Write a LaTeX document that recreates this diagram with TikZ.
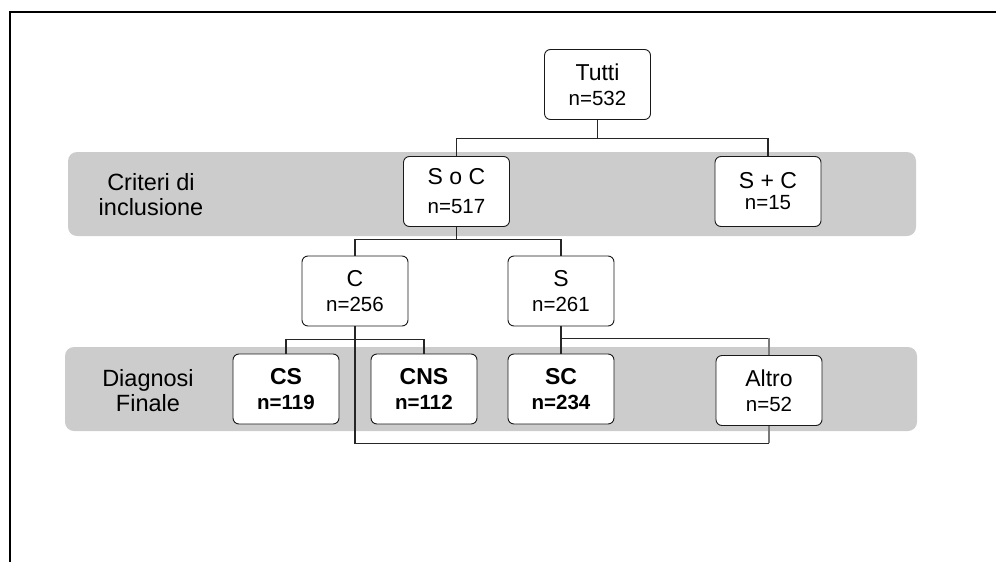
\documentclass[tikz,border=0pt]{standalone}
\usepackage{fontspec}
\setmainfont{Liberation Sans}
\definecolor{bandgray}{HTML}{CCCCCC}
\definecolor{inkgray}{HTML}{7A7A7A}
\newcommand{\ttl}{\fontsize{23}{25}\selectfont}
\begin{document}
\begin{tikzpicture}[x=1pt,y=-1pt,
  box/.style={draw=black!90, line width=0.9pt, fill=white, rounded corners=6pt,
    minimum width=106pt, minimum height=70pt, inner sep=0pt, align=center,
    font=\fontsize{20.5}{25}\selectfont},
  boldbox/.style={box, font=\bfseries\fontsize{20.5}{25}\selectfont},
  band/.style={fill=bandgray, draw=none, rounded corners=9pt, inner sep=0pt},
  lbl/.style={align=center, inner sep=0pt, font=\fontsize{23.5}{25}\selectfont},
  link/.style={line width=1.2pt, draw=black!85},
  side/.style={line width=1.2pt, draw=inkgray}]
\useasboundingbox (0,0) rectangle (996,562);

% outer frame (top and left edges only)
\draw[line width=2pt] (996,12) -- (10,12) -- (10,562);

% grey bands for the two levels
\node[band, minimum width=848pt, minimum height=84pt] (bandA) at (492,194) {};
\node[band, minimum width=852pt, minimum height=84pt] (bandB) at (491,389) {};

% band labels
\node[lbl] (crit) at (151,195) {Criteri di\\inclusione};
\node[lbl] (diag) at (148,391) {Diagnosi\\Finale};

% boxes
\node[box] (tutti) at (597.5,84.5) {{\ttl Tutti}\\n=532};
\node[box] (soc)   at (456.5,191.5) {{\ttl S o C}\\[4pt]n=517};
\node[box] (spc)   at (768,191.5) {{\ttl S + C}\\[-4pt]n=15};
\node[box] (c)     at (355,291) {{\ttl C}\\n=256};
\node[box] (s)     at (561,291) {{\ttl S}\\n=261};
\node[boldbox] (cs)  at (286,389) {{\ttl CS}\\n=119};
\node[boldbox] (cns) at (424,389) {{\ttl CNS}\\n=112};
\node[boldbox] (sc)  at (561,389) {{\ttl SC}\\n=234};
\node[box] (altro) at (769,390.5) {{\ttl Altro}\\n=52};

% connectors
\draw[link] (tutti.south) -- ++(0,19.5);
\draw[link] (soc.north) -- ++(0,-17.5) -| (spc.north);
\draw[link] (soc.south) -- ++(0,13.5);
\draw[link] (c.north) -- ++(0,-16) -| (s.north);
\draw[link] (cs.north) -- ++(0,-14) -| (cns.north);
\draw[link] (s.south) -- (sc.north);
\path (s.south) ++(0,12) coordinate (sj);
\path (c.south) ++(0,117) coordinate (cj);
\draw[link] (sj) -- (sj -| altro.north);
\draw[side] (sj -| altro.north) -- (altro.north);
\draw[link] (c.south) -- (cj) -- (cj -| altro.south);
\draw[side] (altro.south) -- (cj -| altro.south);
\end{tikzpicture}
\end{document}
